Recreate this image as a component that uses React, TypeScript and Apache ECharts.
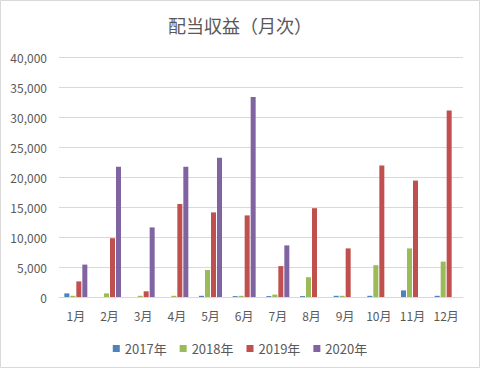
import React, { useEffect, useRef } from "react";
import * as echarts from "echarts";

const months = ["1月", "2月", "3月", "4月", "5月", "6月", "7月", "8月", "9月", "10月", "11月", "12月"];
const seriesNames = ["2017年", "2018年", "2019年", "2020年"];
const values2017 = [600, 0, 0, 0, 200, 150, 150, 150, 200, 200, 1100, 200];
const values2018 = [200, 600, 200, 200, 4500, 200, 400, 3300, 200, 5300, 8100, 5900];
const values2019 = [2600, 9800, 950, 15500, 14100, 13600, 5150, 14800, 8100, 21900, 19400, 31100];
const values2020 = [5400, 21700, 11600, 21700, 23200, 33350, 8600, 0, 0, 0, 0, 0];
const colors = ["#4F81BD", "#9BBB59", "#C0504D", "#8064A2"];
const title = "配当収益（月次）";

const FONT = "'Noto Sans CJK JP', 'Liberation Sans', sans-serif";

export default function App() {
  const ref = useRef<HTMLDivElement>(null);
  useEffect(() => {
    if (!ref.current) return;
    const chart = echarts.init(ref.current, null, { renderer: "svg" });
    const data = [values2017, values2018, values2019, values2020];
    chart.setOption({
      animation: false,
      backgroundColor: "#ffffff",
      textStyle: { fontFamily: FONT },
      title: {
        text: title,
        left: "center",
        top: 11,
        textStyle: { fontSize: 18, fontWeight: "normal", color: "#595959", fontFamily: FONT },
      },
      graphic: [
        {
          type: "rect",
          shape: { x: 0.5, y: 0.5, width: 479, height: 367 },
          style: { fill: "none", stroke: "#d9d9d9", lineWidth: 1 },
          silent: true,
        },
      ],
      legend: {
        top: 337,
        left: "center",
        itemWidth: 7,
        itemHeight: 7,
        itemGap: 13,
        icon: "rect",
        textStyle: { fontSize: 13, color: "#595959", fontFamily: FONT },
        data: seriesNames,
      },
      grid: { left: 59, right: 17, top: 57, bottom: 71, containLabel: false },
      xAxis: {
        type: "category",
        data: months,
        axisLine: { lineStyle: { color: "#d9d9d9" } },
        axisTick: { show: false },
        axisLabel: { color: "#595959", fontSize: 12, margin: 12, fontFamily: FONT, interval: 0 },
      },
      yAxis: {
        type: "value",
        min: 0,
        max: 40000,
        interval: 5000,
        axisLine: { show: false },
        axisTick: { show: false },
        splitLine: { lineStyle: { color: "#d9d9d9" } },
        axisLabel: {
          color: "#595959",
          fontSize: 12,
          margin: 12,
          fontFamily: FONT,
          formatter: (v: number) => v.toLocaleString("en-US"),
        },
      },
      series: seriesNames.map((name, i) => ({
        name,
        type: "bar",
        data: data[i],
        barWidth: 5,
        barGap: "20%",
        itemStyle: { color: colors[i] },
      })),
    });
    return () => chart.dispose();
  }, []);
  return (
    <div
      ref={ref}
      style={{ position: "absolute", left: 0, top: 0, width: 480, height: 368 }}
    />
  );
}
